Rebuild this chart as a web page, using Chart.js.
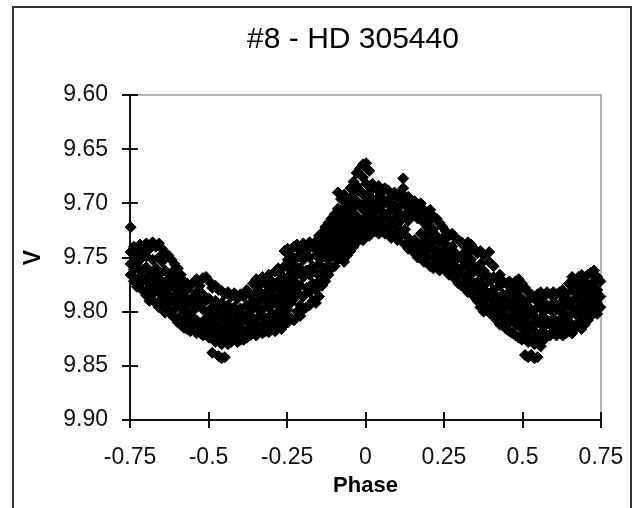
<!DOCTYPE html>
<html>
<head>
<meta charset="utf-8">
<script src="https://cdn.jsdelivr.net/npm/chart.js@4.4.0/dist/chart.umd.min.js"></script>
<style>
  html, body { margin: 0; padding: 0; background: #fff; }
  #wrap { width: 639px; height: 508px; }
</style>
</head>
<body>
<div id="wrap"><canvas id="lightCurve" width="639" height="508"></canvas></div>
<script>
// --- DATOS ---
const chartTitle = '#8 - HD 305440';
const xAxisTitle = 'Phase';
const yAxisTitle = 'V';

const xTickValues = [-0.75, -0.5, -0.25, 0, 0.25, 0.5, 0.75];
const xTickLabels = ['-0.75', '-0.5', '-0.25', '0', '0.25', '0.5', '0.75'];
const yTickValues = [9.60, 9.65, 9.70, 9.75, 9.80, 9.85, 9.90];
const yTickLabels = ['9.60', '9.65', '9.70', '9.75', '9.80', '9.85', '9.90'];

// columnas de puntos: [fase, [magnitudes V]]
const leftMinimum = [
    [-0.748, [9.722, 9.745, 9.756, 9.766]],
    [-0.738, [9.740, 9.750, 9.761, 9.772]],
    [-0.728, [9.746, 9.756, 9.770, 9.777]],
    [-0.718, [9.738, 9.752, 9.762, 9.774]],
    [-0.708, [9.744, 9.768, 9.781]],
    [-0.698, [9.737, 9.749, 9.759, 9.772, 9.785]],
    [-0.688, [9.742, 9.765, 9.778, 9.790]],
    [-0.678, [9.736, 9.752, 9.770, 9.784]],
    [-0.668, [9.740, 9.760, 9.776, 9.792]],
    [-0.658, [9.737, 9.750, 9.766, 9.782, 9.796]],
    [-0.648, [9.742, 9.754, 9.772, 9.788]],
    [-0.638, [9.746, 9.762, 9.778, 9.793, 9.801]],
    [-0.628, [9.748, 9.770, 9.784, 9.798]],
    [-0.618, [9.752, 9.764, 9.776, 9.790, 9.803]],
    [-0.608, [9.756, 9.772, 9.786, 9.798, 9.806]],
    [-0.598, [9.760, 9.768, 9.781, 9.794, 9.810]],
    [-0.588, [9.766, 9.776, 9.790, 9.804, 9.812]],
    [-0.578, [9.772, 9.786, 9.799, 9.815]],
    [-0.568, [9.774, 9.780, 9.794, 9.808, 9.816]],
    [-0.558, [9.776, 9.790, 9.803, 9.818]],
    [-0.548, [9.773, 9.786, 9.799, 9.812]],
    [-0.538, [9.770, 9.782, 9.794, 9.808, 9.820]],
    [-0.528, [9.776, 9.790, 9.816]],
    [-0.518, [9.769, 9.784, 9.798, 9.812, 9.822]],
    [-0.508, [9.768, 9.790, 9.806, 9.820]],
    [-0.498, [9.772, 9.788, 9.800, 9.814, 9.824]],
    [-0.488, [9.778, 9.796, 9.810, 9.822, 9.838]],
    [-0.478, [9.776, 9.790, 9.804, 9.818, 9.828]],
    [-0.468, [9.780, 9.798, 9.812, 9.826, 9.841]],
    [-0.458, [9.781, 9.792, 9.806, 9.820, 9.830, 9.843]],
    [-0.448, [9.784, 9.800, 9.814, 9.826, 9.842]],
    [-0.438, [9.782, 9.794, 9.808, 9.820, 9.830]],
    [-0.428, [9.786, 9.802, 9.816, 9.828]],
    [-0.418, [9.783, 9.796, 9.810, 9.824]],
    [-0.408, [9.788, 9.804, 9.818, 9.828]],
    [-0.398, [9.784, 9.797, 9.811, 9.826]],
    [-0.388, [9.786, 9.804, 9.818, 9.826]],
    [-0.378, [9.780, 9.794, 9.808, 9.824]],
    [-0.368, [9.784, 9.800, 9.814, 9.822]],
    [-0.358, [9.774, 9.790, 9.806, 9.820]],
    [-0.348, [9.770, 9.782, 9.796, 9.812, 9.822]],
    [-0.338, [9.776, 9.790, 9.804, 9.818]],
    [-0.328, [9.768, 9.784, 9.798, 9.812, 9.820]],
    [-0.318, [9.774, 9.790, 9.806, 9.818]],
    [-0.308, [9.766, 9.780, 9.796, 9.810, 9.819]],
    [-0.298, [9.772, 9.786, 9.802, 9.816]],
    [-0.288, [9.763, 9.778, 9.792, 9.808, 9.818]],
    [-0.278, [9.760, 9.772, 9.786, 9.800, 9.814]],
    [-0.268, [9.766, 9.780, 9.794, 9.806, 9.816]],
    [-0.258, [9.744, 9.758, 9.774, 9.788, 9.802, 9.812]]
];

const peak = [
    [-0.248, [9.742, 9.752, 9.768, 9.784, 9.798, 9.810]],
    [-0.238, [9.748, 9.762, 9.778, 9.792, 9.806]],
    [-0.228, [9.740, 9.756, 9.772, 9.788, 9.808]],
    [-0.218, [9.738, 9.750, 9.766, 9.782, 9.800]],
    [-0.208, [9.744, 9.760, 9.776, 9.794, 9.804]],
    [-0.198, [9.737, 9.752, 9.768, 9.786, 9.798]],
    [-0.188, [9.744, 9.762, 9.778, 9.796]],
    [-0.178, [9.736, 9.750, 9.766, 9.782, 9.794]],
    [-0.168, [9.740, 9.758, 9.774, 9.790]],
    [-0.158, [9.735, 9.748, 9.764, 9.780, 9.792]],
    [-0.148, [9.730, 9.742, 9.756, 9.772, 9.786]],
    [-0.138, [9.727, 9.738, 9.750, 9.764, 9.776]],
    [-0.128, [9.722, 9.734, 9.746, 9.760, 9.772]],
    [-0.118, [9.718, 9.728, 9.740, 9.752, 9.766]],
    [-0.108, [9.714, 9.724, 9.736, 9.748, 9.760]],
    [-0.098, [9.710, 9.720, 9.732, 9.744, 9.758]],
    [-0.088, [9.690, 9.705, 9.716, 9.728, 9.740, 9.752]],
    [-0.078, [9.696, 9.710, 9.722, 9.734, 9.746]],
    [-0.068, [9.692, 9.704, 9.716, 9.728, 9.742, 9.754]],
    [-0.058, [9.700, 9.712, 9.724, 9.736, 9.748]],
    [-0.048, [9.686, 9.696, 9.708, 9.720, 9.732, 9.744]],
    [-0.038, [9.680, 9.692, 9.704, 9.716, 9.728, 9.740]],
    [-0.028, [9.672, 9.684, 9.698, 9.712, 9.724, 9.736]],
    [-0.018, [9.668, 9.688, 9.702, 9.716, 9.730]],
    [-0.008, [9.664, 9.676, 9.692, 9.706, 9.720, 9.734]],
    [0.002, [9.663, 9.682, 9.698, 9.712, 9.726]],
    [0.012, [9.670, 9.690, 9.704, 9.718, 9.730]],
    [0.022, [9.682, 9.696, 9.710, 9.722]],
    [0.032, [9.686, 9.700, 9.714, 9.726]],
    [0.042, [9.684, 9.694, 9.706, 9.718, 9.728]],
    [0.052, [9.690, 9.702, 9.714, 9.724]],
    [0.062, [9.686, 9.698, 9.710, 9.722, 9.728]],
    [0.072, [9.688, 9.700, 9.714, 9.726]],
    [0.082, [9.694, 9.706, 9.720, 9.732]],
    [0.092, [9.690, 9.702, 9.714, 9.728]],
    [0.102, [9.694, 9.708, 9.722, 9.734]],
    [0.112, [9.690, 9.702, 9.716, 9.730]],
    [0.120, [9.677, 9.686]],
    [0.126, [9.696, 9.710, 9.724, 9.738]],
    [0.136, [9.694, 9.704, 9.716, 9.732, 9.742]],
    [0.146, [9.700, 9.712, 9.738]],
    [0.156, [9.698, 9.708, 9.734, 9.746]],
    [0.166, [9.704, 9.714, 9.740, 9.750]],
    [0.176, [9.700, 9.712, 9.728, 9.738, 9.748]],
    [0.186, [9.706, 9.718, 9.730, 9.744, 9.754]],
    [0.196, [9.710, 9.722, 9.736, 9.750]],
    [0.206, [9.706, 9.716, 9.728, 9.742, 9.758]],
    [0.216, [9.712, 9.724, 9.736, 9.750, 9.760]],
    [0.226, [9.714, 9.730, 9.744, 9.756]],
    [0.236, [9.718, 9.736, 9.750, 9.762]],
    [0.246, [9.722, 9.732, 9.744, 9.756]]
];

const rightMinimum = [
    [0.256, [9.726, 9.738, 9.750, 9.762]],
    [0.266, [9.730, 9.744, 9.756, 9.766]],
    [0.276, [9.728, 9.740, 9.752, 9.764]],
    [0.286, [9.732, 9.746, 9.758, 9.770]],
    [0.296, [9.734, 9.750, 9.764, 9.774]],
    [0.306, [9.736, 9.748, 9.760, 9.776]],
    [0.316, [9.740, 9.754, 9.768, 9.778]],
    [0.326, [9.736, 9.746, 9.760, 9.772, 9.782]],
    [0.336, [9.738, 9.752, 9.766, 9.778]],
    [0.346, [9.742, 9.758, 9.774, 9.786]],
    [0.356, [9.746, 9.762, 9.778, 9.790]],
    [0.366, [9.744, 9.756, 9.770, 9.784, 9.796]],
    [0.376, [9.748, 9.762, 9.776, 9.790, 9.800]],
    [0.386, [9.766, 9.782, 9.796]],
    [0.394, [9.745, 9.754]],
    [0.398, [9.772, 9.788, 9.802]],
    [0.408, [9.758, 9.768, 9.780, 9.794, 9.804]],
    [0.418, [9.770, 9.786, 9.800, 9.808]],
    [0.428, [9.766, 9.776, 9.792, 9.806, 9.812]],
    [0.438, [9.772, 9.784, 9.798, 9.812]],
    [0.448, [9.774, 9.790, 9.804, 9.816]],
    [0.458, [9.772, 9.782, 9.796, 9.810, 9.818]],
    [0.468, [9.776, 9.790, 9.804, 9.820]],
    [0.478, [9.772, 9.784, 9.798, 9.812, 9.822]],
    [0.488, [9.770, 9.780, 9.794, 9.808, 9.824]],
    [0.498, [9.774, 9.788, 9.802, 9.816, 9.826]],
    [0.508, [9.778, 9.796, 9.810, 9.822, 9.840]],
    [0.518, [9.782, 9.790, 9.804, 9.818, 9.828, 9.842]],
    [0.528, [9.784, 9.798, 9.812, 9.826, 9.840]],
    [0.538, [9.788, 9.804, 9.818, 9.830, 9.843]],
    [0.548, [9.784, 9.796, 9.810, 9.824, 9.842]],
    [0.558, [9.782, 9.792, 9.806, 9.820, 9.832]],
    [0.568, [9.786, 9.800, 9.814, 9.826]],
    [0.578, [9.782, 9.794, 9.808, 9.822]],
    [0.588, [9.784, 9.798, 9.812, 9.822]],
    [0.598, [9.782, 9.792, 9.806, 9.818]],
    [0.608, [9.784, 9.798, 9.812, 9.822]],
    [0.618, [9.782, 9.794, 9.808, 9.818]],
    [0.628, [9.780, 9.790, 9.802, 9.814, 9.822]],
    [0.638, [9.784, 9.796, 9.810, 9.820]],
    [0.648, [9.774, 9.790, 9.804, 9.818]],
    [0.658, [9.768, 9.780, 9.796, 9.812, 9.820]],
    [0.668, [9.774, 9.788, 9.802, 9.816]],
    [0.678, [9.768, 9.782, 9.796, 9.810]],
    [0.688, [9.766, 9.776, 9.790, 9.804, 9.816]],
    [0.698, [9.772, 9.786, 9.800, 9.812]],
    [0.708, [9.766, 9.780, 9.794, 9.808]],
    [0.718, [9.764, 9.776, 9.790, 9.804]],
    [0.728, [9.762, 9.772, 9.784, 9.798]],
    [0.738, [9.768, 9.780, 9.792, 9.802]],
    [0.748, [9.772, 9.786, 9.796]]
];

// --- PREPARACIÓN ---
const toPoints = cols => cols.flatMap(([p, mags]) => mags.map(v => ({ x: p, y: v })));
const observations = [...toPoints(leftMinimum), ...toPoints(peak), ...toPoints(rightMinimum)];

const FONT = '"Liberation Sans", Arial, sans-serif';

// marco exterior, borde gris del área y marcas de escala que cruzan el eje
const excelFrame = {
    id: 'excelFrame',
    beforeDraw(chart) {
        const { ctx } = chart;
        ctx.save();
        ctx.fillStyle = '#fff';
        ctx.fillRect(0, 0, chart.width, chart.height);
        ctx.strokeStyle = '#333';
        ctx.lineWidth = 2;
        ctx.strokeRect(13, 7, chart.width - 21, chart.height + 10);
        ctx.restore();
    },
    beforeDatasetsDraw(chart) {
        const { ctx, chartArea: a, scales: { x, y } } = chart;
        ctx.save();
        ctx.strokeStyle = '#9a9a9a';
        ctx.lineWidth = 1.5;
        ctx.beginPath();
        ctx.moveTo(a.left, a.top);
        ctx.lineTo(a.right, a.top);
        ctx.lineTo(a.right, a.bottom);
        ctx.stroke();

        ctx.strokeStyle = '#111';
        ctx.lineWidth = 2;
        ctx.beginPath();
        y.ticks.forEach(t => {
            const py = Math.round(y.getPixelForValue(t.value));
            ctx.moveTo(a.left - 8, py);
            ctx.lineTo(a.left + 8, py);
        });
        x.ticks.forEach(t => {
            const px = Math.round(x.getPixelForValue(t.value));
            ctx.moveTo(px, a.bottom - 8);
            ctx.lineTo(px, a.bottom + 8);
        });
        ctx.stroke();
        ctx.restore();
    },
    afterDraw(chart) {
        const { ctx } = chart;
        ctx.save();
        ctx.fillStyle = '#000';
        ctx.font = '30px ' + FONT;
        ctx.textAlign = 'center';
        ctx.textBaseline = 'middle';
        ctx.fillText(chartTitle, 353, 40);
        ctx.restore();
    }
};

new Chart(document.getElementById('lightCurve'), {
    type: 'scatter',
    data: {
        datasets: [{
            label: 'V',
            data: observations,
            pointStyle: 'rectRot',
            pointRadius: 5.5,
            pointBorderWidth: 1,
            backgroundColor: '#000',
            borderColor: '#000',
            clip: false
        }]
    },
    options: {
        responsive: false,
        animation: false,
        devicePixelRatio: 1,
        events: [],
        layout: { padding: { top: 95, right: 38, left: 0, bottom: 0 } },
        plugins: {
            legend: { display: false },
            tooltip: { enabled: false },
            title: { display: false }
        },
        scales: {
            x: {
                type: 'linear',
                min: -0.75,
                max: 0.75,
                afterFit: s => { s.height = 88; s.paddingLeft = 0; s.paddingRight = 0; },
                afterBuildTicks: s => { s.ticks = xTickValues.map(v => ({ value: v })); },
                grid: { display: true, drawOnChartArea: false, drawTicks: false },
                border: { color: '#111', width: 2 },
                ticks: {
                    padding: 24,
                    color: '#111',
                    font: { family: FONT, size: 23 },
                    maxRotation: 0,
                    callback: (v, i) => xTickLabels[i]
                },
                title: {
                    display: true,
                    text: xAxisTitle,
                    color: '#000',
                    font: { family: FONT, size: 22, weight: 'bold' },
                    padding: { top: 0, bottom: 9 }
                }
            },
            y: {
                type: 'linear',
                reverse: true,
                min: 9.60,
                max: 9.90,
                afterFit: s => { s.width = 130; s.paddingTop = 0; s.paddingBottom = 0; },
                afterBuildTicks: s => { s.ticks = yTickValues.map(v => ({ value: v })); },
                grid: { display: true, drawOnChartArea: false, drawTicks: false },
                border: { color: '#111', width: 2 },
                ticks: {
                    padding: 22,
                    color: '#111',
                    font: { family: FONT, size: 23 },
                    callback: (v, i) => yTickLabels[i]
                },
                title: {
                    display: true,
                    text: yAxisTitle,
                    color: '#000',
                    font: { family: FONT, size: 23, weight: 'bold' },
                    padding: { top: 20, bottom: 0 }
                }
            }
        }
    },
    plugins: [excelFrame]
});
</script>
</body>
</html>
